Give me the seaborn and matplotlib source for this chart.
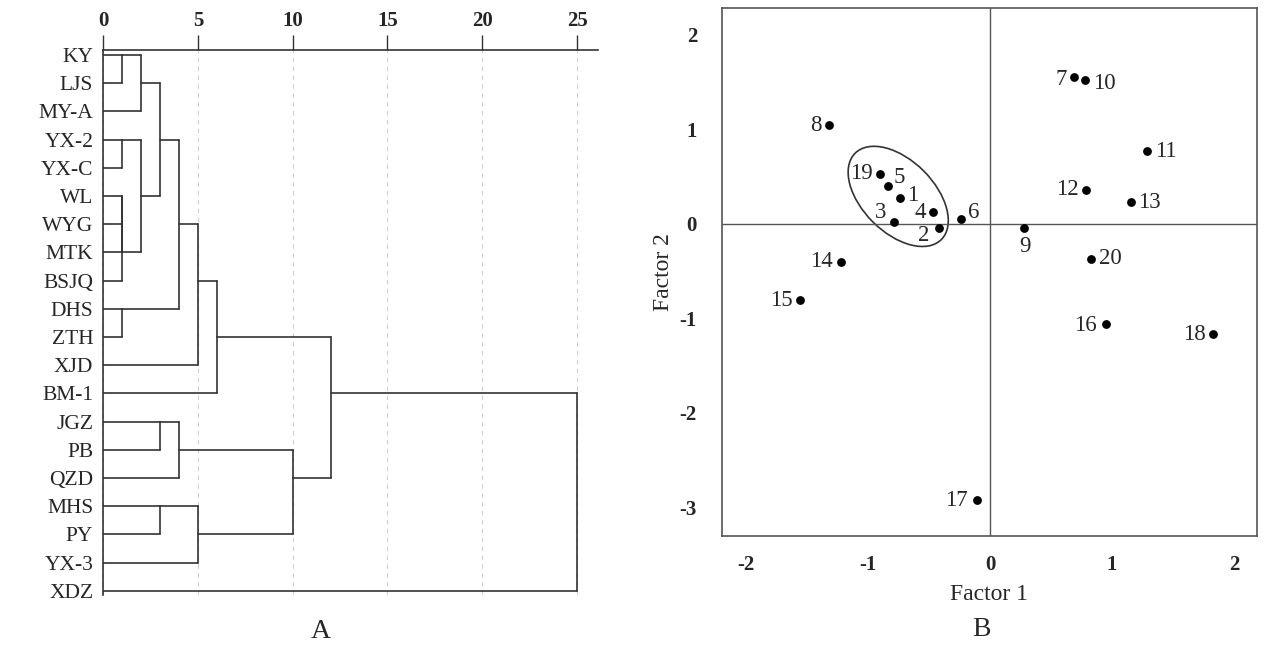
import numpy as np
import pandas as pd
import matplotlib.pyplot as plt
import seaborn as sns
from matplotlib.patches import Ellipse
from matplotlib.transforms import ScaledTranslation

# ---- dados do dendrograma (A) ----
leaves = ['KY', 'LJS', 'MY-A', 'YX-2', 'YX-C', 'WL', 'WYG', 'MTK', 'BSJQ', 'DHS',
          'ZTH', 'XJD', 'BM-1', 'JGZ', 'PB', 'QZD', 'MHS', 'PY', 'YX-3', 'XDZ']
# cada fusao: cluster a, cluster b, distancia reescalada (novos clusters numerados a partir de 20)
merge_a = ['KY', 20, 'YX-2', 'WL', 23, 24, 22, 21, 'DHS', 27, 29, 30, 'JGZ', 32, 'MHS', 34, 33, 31, 37]
merge_b = ['LJS', 'MY-A', 'YX-C', 'WYG', 'MTK', 'BSJQ', 25, 26, 'ZTH', 28, 'XJD', 'BM-1',
           'PB', 'QZD', 'PY', 'YX-3', 35, 36, 'XDZ']
merge_dist = [1, 2, 1, 1, 1, 1, 2, 3, 1, 4, 5, 6, 3, 4, 3, 5, 10, 12, 25]
dist_ticks = [0, 5, 10, 15, 20, 25]

# ---- dados do grafico de fatores (B) ----
point_id = list(range(1, 21))
factor1 = [-0.74, -0.42, -0.79, -0.47, -0.84, -0.24, 0.69, -1.32, 0.28, 0.78,
           1.29, 0.79, 1.16, -1.22, -1.56, 0.95, -0.11, 1.83, -0.90, 0.83]
factor2 = [0.27, -0.05, 0.02, 0.12, 0.40, 0.05, 1.55, 1.04, -0.05, 1.52,
           0.77, 0.36, 0.23, -0.40, -0.81, -1.06, -2.92, -1.16, 0.53, -0.37]
f1_ticks = [-2, -1, 0, 1, 2]
f2_ticks = [-3, -2, -1, 0, 1, 2]

# posicao dos rotulos em relacao ao ponto (pixels)
label_off = {1: (13, 3), 2: (-15, -7), 3: (-13, 9), 4: (-13, 0), 5: (12, 8), 6: (13, 7),
             7: (-13, -2), 8: (-13, 0), 9: (1, -18), 10: (19, -4), 11: (19, -1), 12: (-19, 0),
             13: (18, -1), 14: (-20, 0), 15: (-19, 0), 16: (-21, -1), 17: (-20, 0),
             18: (-19, -1), 19: (-19, 0), 20: (19, 0)}

sns.set_style('white')
plt.rcParams['font.family'] = ['Liberation Serif', 'DejaVu Serif']
line_c = '#333333'

fig = plt.figure(figsize=(12.69, 6.59), dpi=100)

# ================= A: dendrograma =================
ax1 = fig.add_axes([103 / 1269, 1 - 595 / 659, (598 - 103) / 1269, (595 - 50) / 659])

rep = {name: i for i, name in enumerate(leaves)}
height = {name: 0 for name in leaves}
rows = []
seg = 0
for k, (a, b, d) in enumerate(zip(merge_a, merge_b, merge_dist)):
    ra, rb = rep[a], rep[b]
    for xs, ys in (([height[a], d], [ra, ra]), ([height[b], d], [rb, rb]), ([d, d], [ra, rb])):
        rows += [{'seg': seg, 'x': xs[0], 'y': ys[0]}, {'seg': seg, 'x': xs[1], 'y': ys[1]}]
        seg += 1
    rep[20 + k] = (ra + rb) // 2
    height[20 + k] = d
segs = pd.DataFrame(rows)

sns.lineplot(data=segs, x='x', y='y', units='seg', estimator=None, sort=False,
             color=line_c, lw=1.2, ax=ax1)

ax1.set_xlim(0, 26.1)
ax1.set_ylim(19.15, -0.18)
ax1.xaxis.tick_top()
ax1.set_xticks(dist_ticks)
ax1.set_xticklabels([str(t) for t in dist_ticks], fontweight='bold', fontsize=15)
ax1.tick_params(axis='x', direction='out', length=11, width=1, color=line_c, pad=3)
ax1.set_yticks(range(len(leaves)))
ax1.set_yticklabels(leaves, fontsize=15.5)
ax1.tick_params(axis='y', length=0, pad=7)
ax1.set_xlabel('')
ax1.set_ylabel('')
ax1.xaxis.grid(True, linestyle=(0, (4, 4)), color='#d0d0d0', lw=0.8)
ax1.set_axisbelow(True)
for s in ['right', 'bottom']:
    ax1.spines[s].set_visible(False)
for s in ['top', 'left']:
    ax1.spines[s].set_color(line_c)
    ax1.spines[s].set_linewidth(1.2)

# ================= B: fatores =================
ax2 = fig.add_axes([722 / 1269, 1 - 536 / 659, (1257 - 722) / 1269, (536 - 8) / 659])
ax2.axhline(0, color='#555555', lw=1)
ax2.axvline(0, color='#555555', lw=1)
df = pd.DataFrame({'id': point_id, 'f1': factor1, 'f2': factor2})
sns.scatterplot(data=df, x='f1', y='f2', color='black', s=40, edgecolor='black',
                linewidth=0, ax=ax2, zorder=3)
for i, x, y in zip(point_id, factor1, factor2):
    ax2.annotate(str(i), (x, y), xytext=label_off[i], textcoords='offset pixels',
                 ha='center', va='center', fontsize=16.5)

# elipse em torno do grupo 1-5, 19
ell = Ellipse((0, 0), 1.22, 0.72, angle=-45, fill=False, edgecolor='#333333', lw=1.2,
              transform=fig.dpi_scale_trans + ScaledTranslation(-0.754, 0.289, ax2.transData))
ax2.add_patch(ell)

ax2.set_xlim(-2.2, 2.19)
ax2.set_ylim(-3.3, 2.28)
ax2.set_xticks(f1_ticks)
ax2.set_xticklabels([str(t) for t in f1_ticks], fontweight='bold', fontsize=15)
ax2.set_yticks(f2_ticks)
ax2.set_yticklabels([str(t) for t in f2_ticks], fontweight='bold', fontsize=15)
ax2.tick_params(axis='both', direction='out', length=10, width=1, color='#555555')
ax2.tick_params(axis='x', pad=4)
ax2.tick_params(axis='y', pad=8)
ax2.set_xlabel('Factor 1', fontsize=17, labelpad=6)
ax2.set_ylabel('Factor 2', fontsize=17, labelpad=4)
for s in ax2.spines.values():
    s.set_color('#555555')
    s.set_linewidth(1.2)

fig.text(321 / 1269, 1 - 632 / 659, 'A', ha='center', va='center', fontsize=20)
fig.text(981 / 1269, 1 - 630 / 659, 'B', ha='center', va='center', fontsize=20)

fig.savefig('out.png', dpi=100)
